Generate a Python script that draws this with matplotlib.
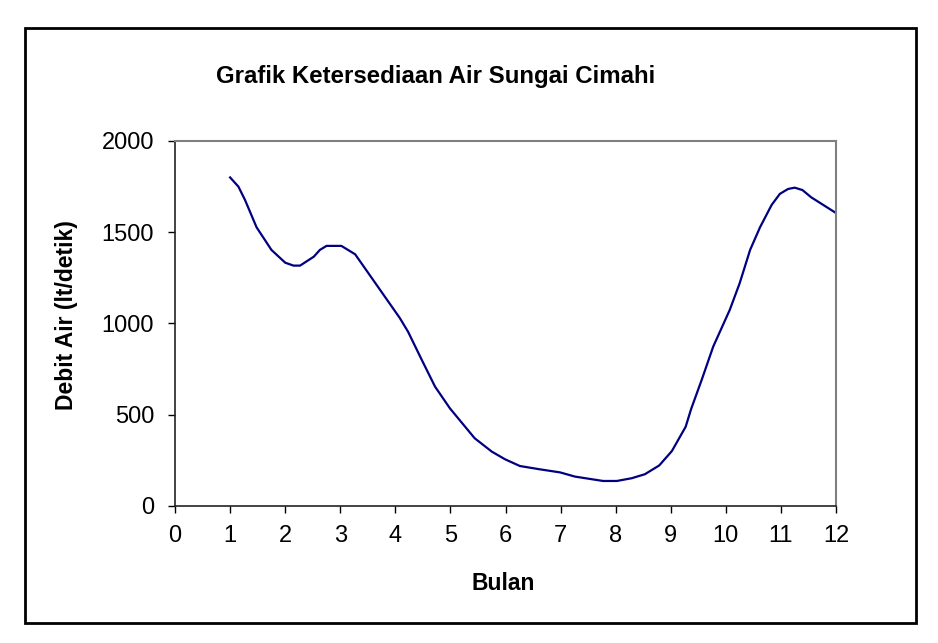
import matplotlib
matplotlib.use("Agg")
import matplotlib.pyplot as plt
from matplotlib.patches import Rectangle

plt.rcParams['font.family'] = ['Liberation Sans', 'DejaVu Sans']

# Data
bulan = [1.00, 1.15, 1.27, 1.48, 1.75, 2.00, 2.15, 2.27, 2.52, 2.63, 2.75, 3.02,
         3.27, 3.66, 4.08, 4.23, 4.48, 4.72, 4.99, 5.44, 5.75, 5.99, 6.26, 6.62,
         6.99, 7.26, 7.77, 8.02, 8.29, 8.53, 8.79, 9.02, 9.27, 9.37, 9.56, 9.77,
         10.07, 10.25, 10.44, 10.62, 10.83, 10.98, 11.13, 11.25, 11.39, 11.55,
         11.77, 12.00]
debit = [1800, 1750, 1677, 1527, 1403, 1333, 1317, 1317, 1366, 1403, 1425, 1425,
         1379, 1211, 1030, 955, 800, 654, 535, 371, 298, 256, 219, 201,
         184, 161, 137, 137, 152, 174, 222, 301, 434, 532, 690, 873,
         1074, 1220, 1403, 1527, 1649, 1710, 1737, 1744, 1731, 1691,
         1649, 1605]

x_ticks = list(range(0, 13))
y_ticks = [0, 500, 1000, 1500, 2000]

fig = plt.figure(figsize=(9.38, 6.43), dpi=100)
ax = fig.add_axes([0.1866, 0.2131, 0.7047, 0.5677])

ax.plot(bulan, debit, color='#000080', lw=1.6)

ax.set_xlim(0, 12)
ax.set_ylim(0, 2000)
ax.set_xticks(x_ticks)
ax.set_yticks(y_ticks)
ax.tick_params(direction='out', length=5, width=1, labelsize=17)
ax.tick_params(axis='x', pad=9)
ax.tick_params(axis='y', pad=10)

for s in ['top', 'right']:
    ax.spines[s].set_color('#808080')
    ax.spines[s].set_linewidth(1.5)
for s in ['left', 'bottom']:
    ax.spines[s].set_color('#222222')
    ax.spines[s].set_linewidth(1.2)

fig.text(66 / 938, 1 - 315 / 643, 'Debit Air (lt/detik)', rotation=90,
         ha='center', va='center', fontsize=16.5, fontweight='bold')
fig.text(503 / 938, 1 - 583 / 643, 'Bulan', ha='center', va='center',
         fontsize=16.5, fontweight='bold')
fig.text(436 / 938, 1 - 76 / 643, 'Grafik Ketersediaan Air Sungai Cimahi',
         ha='center', va='center', fontsize=17.3, fontweight='bold')

# outer chart frame
frame = Rectangle((25 / 938, 1 - 623 / 643), 891 / 938, 595 / 643,
                  transform=fig.transFigure, fill=False, edgecolor='black', lw=2)
fig.patches.append(frame)

fig.savefig('out.png', dpi=100)
